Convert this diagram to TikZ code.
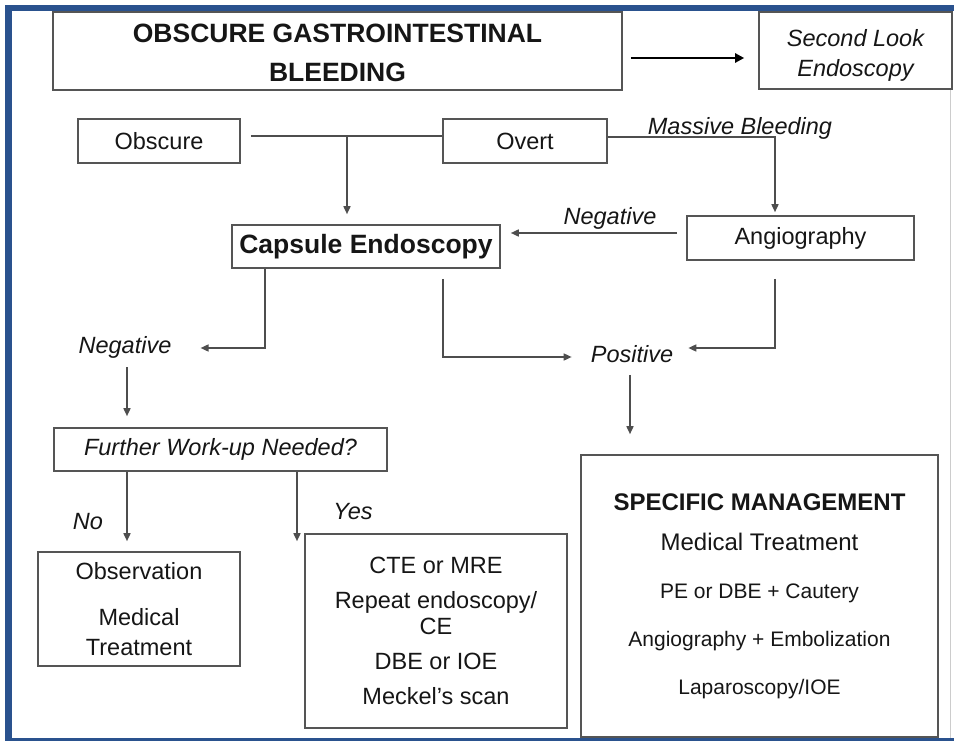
\documentclass[tikz,border=0pt]{standalone}
\usepackage{fontspec}
\setmainfont{Liberation Sans}
\usetikzlibrary{arrows.meta}
\definecolor{frameblue}{RGB}{42,82,142}
\definecolor{boxc}{RGB}{85,85,85}
\definecolor{linec}{RGB}{78,78,78}
\definecolor{txt}{RGB}{22,22,22}
\newcommand\fsN{\fontsize{23.5}{30}\selectfont}
\newcommand\fsB{\fontsize{26.5}{39}\selectfont}
\newcommand\fsC{\fontsize{23.5}{26}\selectfont}
\tikzset{
  box/.style={draw=boxc, line width=1.6pt, fill=white, inner sep=0pt, align=center, text=txt, font=\fsN},
  lbl/.style={inner sep=0pt, text=txt, font=\fsN\itshape},
  conn/.style={draw=linec, line width=1.6pt},
  arr/.style={conn, -{Triangle[length=8pt,width=7pt]}},
  arrT/.style={draw=black, line width=2.8pt, -{Triangle[length=9pt,width=9pt]}}
}
\begin{document}
\begin{tikzpicture}[x=1pt,y=-1pt]
\useasboundingbox (0,0) rectangle (954,741);
\fill[white] (0,0) rectangle (954,741);
% frame
\draw[frameblue, line width=6.5pt, line join=miter] (956,8) -- (8.5,8) -- (8.5,743);
\draw[frameblue, line width=3pt] (8.5,739.5) -- (956,739.5);
\draw[black!20, line width=1pt] (950,90) -- (950,738);

% boxes
\node[box, minimum width=569pt, minimum height=78pt, font=\fsB\bfseries] (title) at (337.5,51) {\rule{0pt}{22pt}OBSCURE GASTROINTESTINAL\\BLEEDING};
\node[box, minimum width=193pt, minimum height=77pt, font=\fsN\itshape] (second) at (855.5,50.5) {\rule{0pt}{26pt}Second Look\\Endoscopy};
\node[box, minimum width=162pt, minimum height=44pt] (obscure) at (159,141) {Obscure};
\node[box, minimum width=164pt, minimum height=44pt] (overt) at (525,141) {Overt};
\node[box, minimum width=227pt, minimum height=44pt] (angio) at (800.5,238) {Angiography};
\node[box, minimum width=268pt, minimum height=43pt, font=\fsB\bfseries] (capsule) at (366,246.5) {Capsule Endoscopy};
\node[box, minimum width=333pt, minimum height=43pt, font=\fsN\itshape] (further) at (220.5,449.5) {Further Work-up Needed?};
\node[box, minimum width=202pt, minimum height=114pt] (obs) at (139,609) {Observation\\[16pt]Medical\\Treatment};
\node[box, minimum width=262pt, minimum height=194pt, font=\fsC] (cte) at (436,631) {CTE or MRE\\[9pt]Repeat endoscopy/\\CE\\[9pt]DBE or IOE\\[9pt]Meckel’s scan};
\node[box, minimum width=357pt, minimum height=282pt, font=\fontsize{24}{30}\selectfont] (spec) at (759.5,596)
  {{\bfseries SPECIFIC MANAGEMENT}\\[9.6pt]Medical Treatment\\[18pt]{\fontsize{21}{30}\selectfont PE or DBE + Cautery}\\[18pt]{\fontsize{21}{30}\selectfont Angiography + Embolization}\\[18pt]{\fontsize{21}{30}\selectfont Laparoscopy/IOE}};

% labels
\node[lbl] (massive) at (740,128) {Massive Bleeding};
\node[lbl] (negT) at (610,218) {Negative};
\node[lbl] (negL) at (125,347) {Negative};
\node[lbl] (pos) at (632,354) {Positive};
\node[lbl] (no) at (88,522) {No};
\node[lbl] (yes) at (353,512) {Yes};

% connectors
\draw[arrT] ([xshift=8pt,yshift=-7pt]title.east) -- ([xshift=-14pt,yshift=-7.5pt]second.west);
\draw[conn] ([xshift=10pt,yshift=5pt]obscure.east) -- ([yshift=5pt]overt.west);
\coordinate (j1) at (347,136);
\draw[arr, shorten >=10pt] (j1) -- (j1 |- capsule.north);
\draw[arr] ([yshift=4pt]overt.east) -| ([xshift=-25.5pt,yshift=3pt]angio.north);
\draw[arr, shorten >=10pt] ([xshift=-9pt,yshift=5pt]angio.west) coordinate (a1) -- (a1 -| capsule.east);
\draw[arr] ([xshift=-101pt]capsule.south) |- ([xshift=29pt,yshift=-1pt]negL.east);
\draw[arr] ([xshift=77pt,yshift=-10pt]capsule.south) |- ([xshift=-19pt,yshift=-3pt]pos.west);
\draw[arr] ([xshift=-25.5pt,yshift=-18pt]angio.south) |- ([xshift=15pt,yshift=6pt]pos.east);
\draw[arr, shorten >=20pt] ([xshift=-2pt,yshift=-12pt]pos.south) coordinate (p1) -- (p1 |- spec.north);
\draw[arr, shorten >=11pt] ([xshift=2pt,yshift=-9pt]negL.south) coordinate (n1) -- (n1 |- further.north);
\draw[arr, shorten >=10pt] ([xshift=-93.5pt]further.south) coordinate (f1) -- (f1 |- obs.north);
\coordinate (ctein) at ([xshift=-8pt,yshift=-8pt]cte.north west);
\draw[arr] ([xshift=76.5pt]further.south) coordinate (f2) -- (f2 |- ctein);
\end{tikzpicture}
\end{document}
